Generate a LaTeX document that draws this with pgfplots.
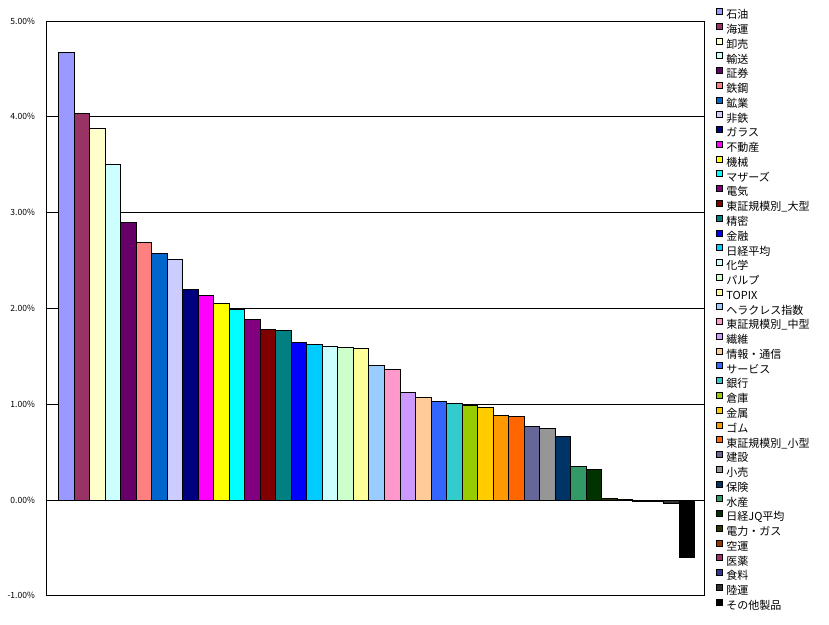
\documentclass[border=0pt]{standalone}
\usepackage{fontspec}
\setmainfont{Noto Sans CJK JP}
\usepackage{pgfplots}
\pgfplotsset{compat=1.18}
\definecolor{c1}{HTML}{9999FF}
\definecolor{c2}{HTML}{993366}
\definecolor{c3}{HTML}{FFFFCC}
\definecolor{c4}{HTML}{CCFFFF}
\definecolor{c5}{HTML}{660066}
\definecolor{c6}{HTML}{FF8080}
\definecolor{c7}{HTML}{0066CC}
\definecolor{c8}{HTML}{CCCCFF}
\definecolor{c9}{HTML}{000080}
\definecolor{c10}{HTML}{FF00FF}
\definecolor{c11}{HTML}{FFFF00}
\definecolor{c12}{HTML}{00FFFF}
\definecolor{c13}{HTML}{800080}
\definecolor{c14}{HTML}{800000}
\definecolor{c15}{HTML}{008080}
\definecolor{c16}{HTML}{0000FF}
\definecolor{c17}{HTML}{00CCFF}
\definecolor{c18}{HTML}{CCFFFF}
\definecolor{c19}{HTML}{CCFFCC}
\definecolor{c20}{HTML}{FFFF99}
\definecolor{c21}{HTML}{99CCFF}
\definecolor{c22}{HTML}{FF99CC}
\definecolor{c23}{HTML}{CC99FF}
\definecolor{c24}{HTML}{FFCC99}
\definecolor{c25}{HTML}{3366FF}
\definecolor{c26}{HTML}{33CCCC}
\definecolor{c27}{HTML}{99CC00}
\definecolor{c28}{HTML}{FFCC00}
\definecolor{c29}{HTML}{FF9900}
\definecolor{c30}{HTML}{FF6600}
\definecolor{c31}{HTML}{666699}
\definecolor{c32}{HTML}{969696}
\definecolor{c33}{HTML}{003366}
\definecolor{c34}{HTML}{339966}
\definecolor{c35}{HTML}{003300}
\definecolor{c36}{HTML}{333300}
\definecolor{c37}{HTML}{993300}
\definecolor{c38}{HTML}{993366}
\definecolor{c39}{HTML}{333399}
\definecolor{c40}{HTML}{333333}
\definecolor{c41}{HTML}{000000}
\begin{document}
\begin{tikzpicture}
\begin{axis}[
  name=ax,
  scale only axis,
  width=658pt, height=574pt,
  xmin=-1.3, xmax=41.15,
  ymin=-1, ymax=5,
  ytick={-1,0,1,2,3,4,5},
  xtick=\empty,
  ymajorgrids,
  grid style={black, line width=0.75pt},
  axis line style={black, line width=0.75pt},
  major tick length=0pt,
  /pgf/number format/assume math mode=true,
  yticklabel={\pgfmathprintnumber[fixed,fixed zerofill,precision=2]{\tick}\%},
  yticklabel style={font=\fontsize{8.5}{10}\selectfont, inner sep=0pt, xshift=-11pt},
  ybar,
  every axis plot/.append style={bar shift=0pt, bar width=1, draw=black, line width=0.75pt},
  legend image code/.code={\draw[#1,/tikz/.cd,draw=black,line width=0.5pt] (0pt,1pt) rectangle (6pt,7pt);},
  legend cell align=left,
  legend style={draw=none, fill=none, at={(rel axis cs:1,1)}, anchor=north west,
    xshift=11pt, yshift=13pt, inner sep=0pt, outer sep=0pt, row sep=1.5pt,
    font=\fontsize{11}{13}\selectfont,
    nodes={inner sep=0pt, text height=9.5pt, text depth=2.5pt},
    /tikz/every odd column/.append style={column sep=4pt}},
]
\addplot[fill=c1] coordinates {(0,4.67)}; \addlegendentry{石油}
\addplot[fill=c2] coordinates {(1,4.04)}; \addlegendentry{海運}
\addplot[fill=c3] coordinates {(2,3.88)}; \addlegendentry{卸売}
\addplot[fill=c4] coordinates {(3,3.50)}; \addlegendentry{輸送}
\addplot[fill=c5] coordinates {(4,2.90)}; \addlegendentry{証券}
\addplot[fill=c6] coordinates {(5,2.69)}; \addlegendentry{鉄鋼}
\addplot[fill=c7] coordinates {(6,2.57)}; \addlegendentry{鉱業}
\addplot[fill=c8] coordinates {(7,2.51)}; \addlegendentry{非鉄}
\addplot[fill=c9] coordinates {(8,2.20)}; \addlegendentry{ガラス}
\addplot[fill=c10] coordinates {(9,2.14)}; \addlegendentry{不動産}
\addplot[fill=c11] coordinates {(10,2.05)}; \addlegendentry{機械}
\addplot[fill=c12] coordinates {(11,1.99)}; \addlegendentry{マザーズ}
\addplot[fill=c13] coordinates {(12,1.89)}; \addlegendentry{電気}
\addplot[fill=c14] coordinates {(13,1.78)}; \addlegendentry{東証規模別\_大型}
\addplot[fill=c15] coordinates {(14,1.77)}; \addlegendentry{精密}
\addplot[fill=c16] coordinates {(15,1.65)}; \addlegendentry{金融}
\addplot[fill=c17] coordinates {(16,1.62)}; \addlegendentry{日経平均}
\addplot[fill=c18] coordinates {(17,1.60)}; \addlegendentry{化学}
\addplot[fill=c19] coordinates {(18,1.59)}; \addlegendentry{パルプ}
\addplot[fill=c20] coordinates {(19,1.58)}; \addlegendentry{TOPIX}
\addplot[fill=c21] coordinates {(20,1.40)}; \addlegendentry{ヘラクレス指数}
\addplot[fill=c22] coordinates {(21,1.36)}; \addlegendentry{東証規模別\_中型}
\addplot[fill=c23] coordinates {(22,1.12)}; \addlegendentry{繊維}
\addplot[fill=c24] coordinates {(23,1.07)}; \addlegendentry{情報・通信}
\addplot[fill=c25] coordinates {(24,1.03)}; \addlegendentry{サービス}
\addplot[fill=c26] coordinates {(25,1.01)}; \addlegendentry{銀行}
\addplot[fill=c27] coordinates {(26,0.99)}; \addlegendentry{倉庫}
\addplot[fill=c28] coordinates {(27,0.97)}; \addlegendentry{金属}
\addplot[fill=c29] coordinates {(28,0.88)}; \addlegendentry{ゴム}
\addplot[fill=c30] coordinates {(29,0.87)}; \addlegendentry{東証規模別\_小型}
\addplot[fill=c31] coordinates {(30,0.77)}; \addlegendentry{建設}
\addplot[fill=c32] coordinates {(31,0.75)}; \addlegendentry{小売}
\addplot[fill=c33] coordinates {(32,0.66)}; \addlegendentry{保険}
\addplot[fill=c34] coordinates {(33,0.35)}; \addlegendentry{水産}
\addplot[fill=c35] coordinates {(34,0.32)}; \addlegendentry{日経JQ平均}
\addplot[fill=c36] coordinates {(35,0.015)}; \addlegendentry{電力・ガス}
\addplot[fill=c37] coordinates {(36,0.005)}; \addlegendentry{空運}
\addplot[fill=c38] coordinates {(37,-0.01)}; \addlegendentry{医薬}
\addplot[fill=c39] coordinates {(38,-0.02)}; \addlegendentry{食料}
\addplot[fill=c40] coordinates {(39,-0.04)}; \addlegendentry{陸運}
\addplot[fill=c41] coordinates {(40,-0.60)}; \addlegendentry{その他製品}
\end{axis}
\pgfresetboundingbox
\path (ax.south west) +(-46pt,-29pt) (ax.north east) +(124pt,21pt);
\end{tikzpicture}
\end{document}
